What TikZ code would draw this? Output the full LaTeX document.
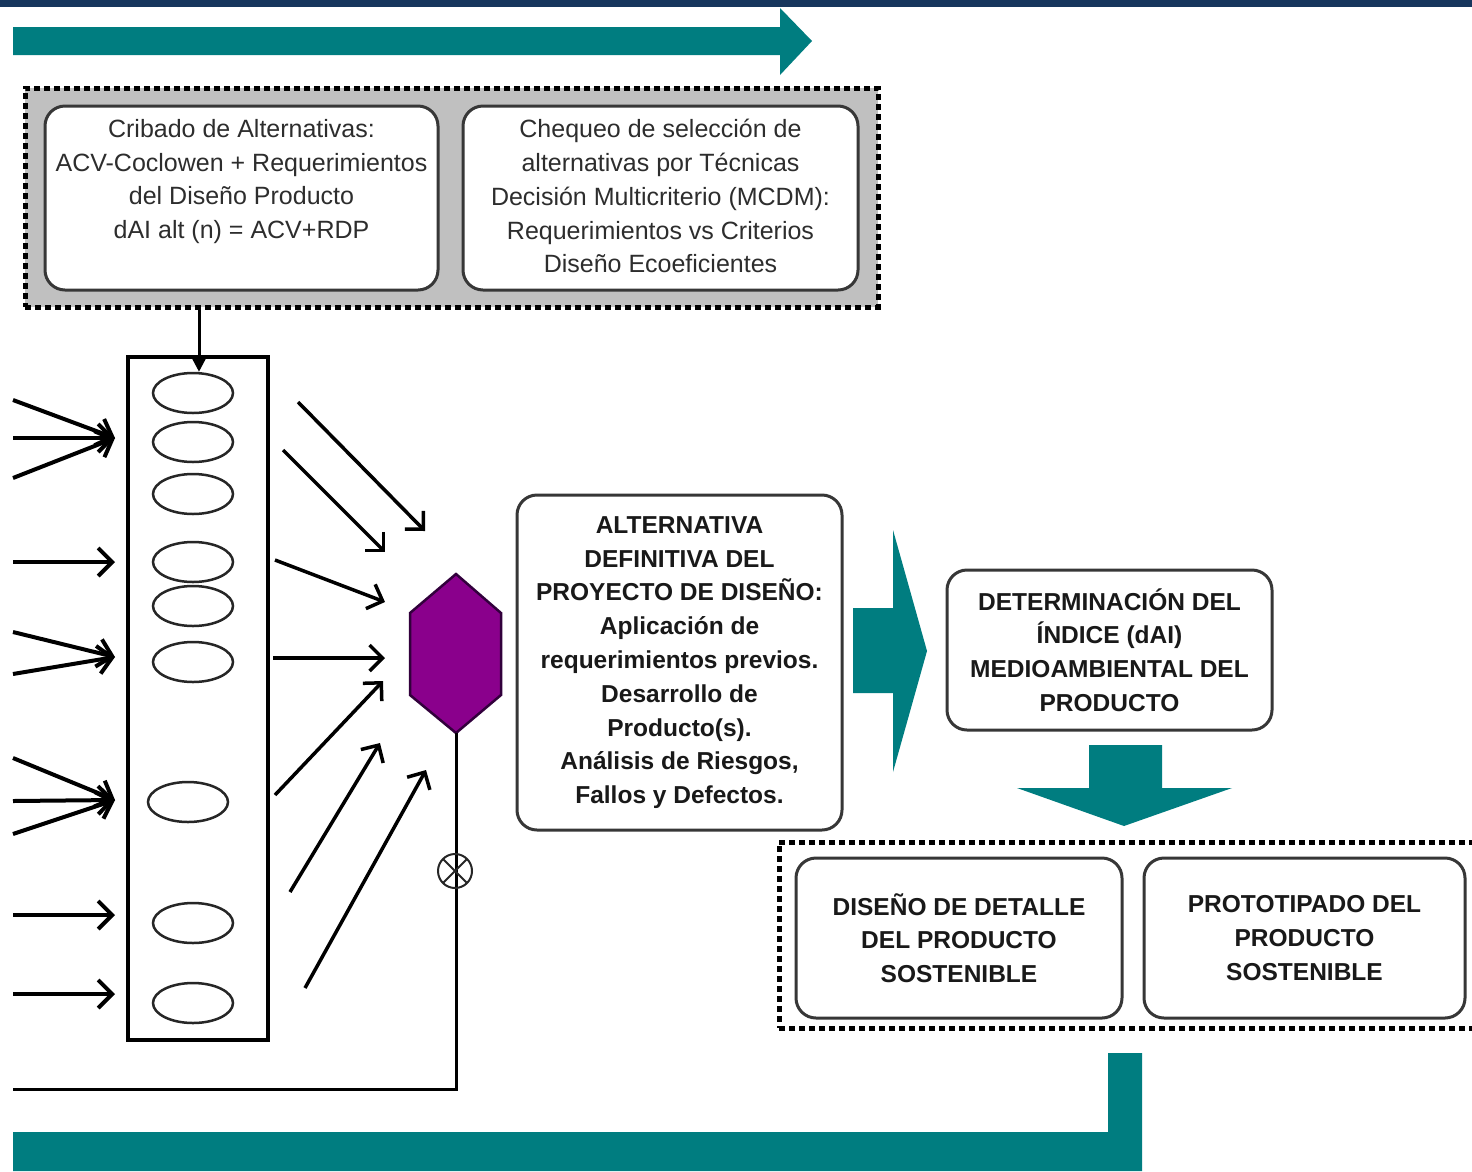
\documentclass[tikz,border=0pt]{standalone}
\usepackage{fontspec}
\setmainfont{Liberation Sans}
\usetikzlibrary{arrows.meta,shapes.geometric}

\definecolor{tealc}{RGB}{0,125,128}
\definecolor{navy}{RGB}{23,54,93}
\definecolor{panelgrey}{RGB}{192,192,192}
\definecolor{cardline}{RGB}{55,55,55}
\definecolor{textgrey}{RGB}{45,45,45}
\definecolor{textdark}{RGB}{25,25,25}
\definecolor{purplec}{RGB}{138,0,140}
\definecolor{purpledark}{RGB}{50,0,60}

\tikzset{
  dotframe/.style={draw=black, line width=5pt, dash pattern=on 6pt off 4pt},
  card/.style={draw=cardline, line width=3pt, rounded corners=20pt, fill=white,
               align=center, inner sep=0pt},
  toptext/.style={font=\fontsize{25}{33.8}\selectfont, text=textgrey,
                  align=center, inner sep=0pt},
  boldtext/.style={font=\fontsize{24.5}{33.8}\selectfont\bfseries, text=textdark},
  slot/.style={draw=black!85, line width=2.5pt, ellipse, minimum width=80pt,
               minimum height=40pt, inner sep=0pt},
  inarrow/.style={line width=4pt, -{Straight Barb[length=14pt,width=28pt]}},
  outarrow/.style={line width=3.5pt, -{Straight Barb[length=13pt,width=26pt]}},
  thinline/.style={line width=3pt},
}

\begin{document}
\begin{tikzpicture}[x=1pt,y=-1pt]
\useasboundingbox (0,0) rectangle (1472,1171);
\clip (0,0) rectangle (1472,1171);
\fill[white] (0,0) rectangle (1472,1171);

% title band
\fill[navy] (0,0) rectangle (1472,7);

% upper process arrow
\fill[tealc] (13,27) -- (780,27) -- (780,8) -- (812,41) -- (780,75) -- (780,55) -- (13,55) -- cycle;

% screening panel
\node[dotframe, fill=panelgrey, minimum width=853pt, minimum height=219pt, inner sep=0pt]
  (screen) at (451.5,197.5) {};
\node[card, minimum width=393pt, minimum height=184pt] (crib) at (241.5,198) {};
\node[card, minimum width=395pt, minimum height=184pt] (cheq) at (660.5,198) {};
\node[toptext, anchor=north] (cribtxt) at (crib.center |- 0,119)
  {Cribado de Alternativas:\\ACV-Coclowen + Requerimientos\\del Diseño Producto\\dAI alt (n) = ACV+RDP};
\node[toptext, anchor=north] (cheqtxt) at (cheq.center |- 0,119)
  {Chequeo de selección de\\alternativas por Técnicas\\Decisión Multicriterio (MCDM):\\Requerimientos vs Criterios\\Diseño Ecoeficientes};

% column of alternatives
\node[draw=black, line width=4pt, minimum width=140pt, minimum height=683pt, inner sep=0pt]
  (col) at (198,698.5) {};
\node[slot] (e1) at (193,393) {};
\node[slot] (e2) at (193,442) {};
\node[slot] (e3) at (193,494) {};
\node[slot] (e4) at (193,562) {};
\node[slot] (e5) at (193,606) {};
\node[slot] (e6) at (193,662) {};
\node[slot] (e7) at (188,802) {};
\node[slot] (e8) at (193,923) {};
\node[slot] (e9) at (193,1003) {};

% screening result feeds the column
\draw[thinline, -{Triangle[length=16pt,width=16pt]}]
  ([xshift=6pt]screen.south -| e1.north) -- ([xshift=6pt]e1.north);

% incoming requirements
\coordinate (t1) at (115,438);
\coordinate (t2) at (115,562);
\coordinate (t3) at (115,657);
\coordinate (t4) at (115,800);
\coordinate (t5) at (115,915);
\coordinate (t6) at (115,994);
\coordinate (s1a) at (13,400);
\coordinate (s1b) at (13,438);
\coordinate (s1c) at (13,478);
\coordinate (s2) at (13,562);
\coordinate (s3a) at (13,632);
\coordinate (s3b) at (13,674);
\coordinate (s4a) at (13,758);
\coordinate (s4b) at (13,801);
\coordinate (s4c) at (13,834);
\coordinate (s5) at (13,915);
\coordinate (s6) at (13,994);
\foreach \s/\t in {s1a/t1,s1b/t1,s1c/t1,s2/t2,s3a/t3,s3b/t3,s4a/t4,s4b/t4,s4c/t4,s5/t5,s6/t6}
  \draw[inarrow] (\s) -- (\t);

% selection node
\fill[purplec, draw=purpledark, line width=2.5pt]
  (456,574) -- (501,613) -- (501,695) -- (456,733) -- (410,695) -- (410,613) -- cycle;
\coordinate (hexbot) at (456,733);

% outgoing alternatives
\coordinate (o1) at (298,402);  \coordinate (h1) at (425,531);
\coordinate (o2) at (283,450);  \coordinate (h2) at (385,552);
\coordinate (o3) at (275,560);  \coordinate (h3) at (385,602);
\coordinate (o4) at (273,658);  \coordinate (h4) at (385,658);
\coordinate (o5) at (275,795);  \coordinate (h5) at (383,681);
\coordinate (o6) at (290,892);  \coordinate (h6) at (380,743);
\coordinate (o7) at (305,988);  \coordinate (h7) at (426,770);
\foreach \i in {1,...,7}
  \draw[outarrow] (o\i) -- (h\i);

% feedback loop
\coordinate (loopcorner) at (456,1089);
\coordinate (loopend) at (13,1089);
\draw[thinline] (hexbot) -- (loopcorner) -- (loopend);
\node[circle, draw=black!85, line width=2pt, minimum size=34pt, inner sep=0pt,
  path picture={\draw[line width=2pt]
    (path picture bounding box.north west) -- (path picture bounding box.south east)
    (path picture bounding box.north east) -- (path picture bounding box.south west);}]
  (valve) at (455,871) {};

% definitive alternative
\node[card, boldtext, minimum width=325pt, minimum height=335pt] (alt) at (679.5,662.5)
  {ALTERNATIVA\\DEFINITIVA DEL\\PROYECTO DE DISEÑO:\\Aplicación de\\requerimientos previos.\\Desarrollo de\\Producto(s).\\Análisis de Riesgos,\\Fallos y Defectos.};

% block arrow to the index
\fill[tealc] (853,608) -- (893,608) -- (893,530) -- (927,651) -- (893,772) -- (893,693) -- (853,693) -- cycle;

\node[card, boldtext, minimum width=325pt, minimum height=160pt] (idx) at (1109.5,650)
  {DETERMINACIÓN DEL\\ÍNDICE (dAI)\\MEDIOAMBIENTAL DEL\\PRODUCTO};

% block arrow down
\fill[tealc] (1089,745) -- (1162,745) -- (1162,788) -- (1232,788) -- (1124,826) -- (1017,788) -- (1089,788) -- cycle;

% final stage panel
\node[dotframe, minimum width=720pt, minimum height=186pt, inner sep=0pt] (final) at (1139,935) {};
\node[card, boldtext, minimum width=326pt, minimum height=160pt] (detail) at (959,938)
  {DISEÑO DE DETALLE\\DEL PRODUCTO\\SOSTENIBLE};
\node[card, boldtext, minimum width=321pt, minimum height=160pt] (proto) at (1304.5,938)
  {PROTOTIPADO DEL\\PRODUCTO\\SOSTENIBLE};

% lower return arrow
\fill[tealc] (13,1132) -- (1108,1132) -- (1108,1053) -- (1142,1053) -- (1142,1171) -- (13,1171) -- cycle;

\end{tikzpicture}
\end{document}
